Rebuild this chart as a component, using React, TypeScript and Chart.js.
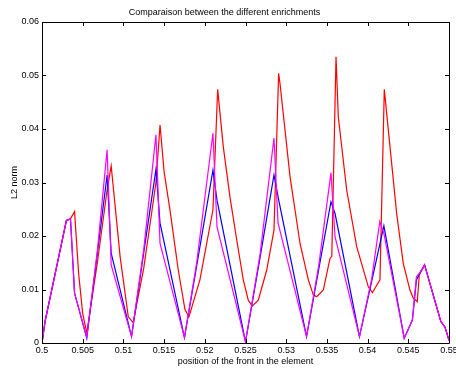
import React, { useEffect, useRef } from "react";
import { Chart, registerables } from "chart.js";

Chart.register(...registerables);

const titleText = "Comparaison between the different enrichments";
const xTitle = "position of the front in the element";
const yTitle = "L2 norm";

const xTickValues = [0.5, 0.505, 0.51, 0.515, 0.52, 0.525, 0.53, 0.535, 0.54, 0.545, 0.55];
const yTickValues = [0, 0.01, 0.02, 0.03, 0.04, 0.05, 0.06];

const redX = [
  0.5, 0.50037, 0.503, 0.5035, 0.504, 0.5045, 0.505, 0.5055,
  0.5068, 0.508, 0.5085, 0.5096, 0.5106, 0.5112,
  0.5125, 0.514, 0.5145, 0.515, 0.51572, 0.51674, 0.51757, 0.51806,
  0.5194, 0.521, 0.52158, 0.52227, 0.52309, 0.52392, 0.52473, 0.52534, 0.52583,
  0.52657, 0.5276, 0.5285, 0.52907, 0.52924, 0.53047, 0.5317, 0.53272, 0.53333, 0.53374,
  0.53456, 0.53538, 0.5356, 0.53612, 0.5364, 0.53743, 0.53866, 0.54009, 0.54058,
  0.54152, 0.54205, 0.54275, 0.54357, 0.54438, 0.5452, 0.54561, 0.5461, 0.54635,
  0.547, 0.549, 0.5495, 0.55,
];
const redY = [
  0, 0.004, 0.0229, 0.0232, 0.02455, 0.013, 0.0055, 0.0019,
  0.015, 0.0286, 0.0331, 0.0161, 0.0049, 0.0038,
  0.014, 0.03, 0.04075, 0.032, 0.0249, 0.01364, 0.0062, 0.0049,
  0.0118, 0.0249, 0.0474, 0.0367, 0.0273, 0.0193, 0.0118, 0.008, 0.0069,
  0.008, 0.0136, 0.0211, 0.0504, 0.0485, 0.0311, 0.0186, 0.0118, 0.009, 0.00866,
  0.0099, 0.0158, 0.0162, 0.0535, 0.0423, 0.0286, 0.018, 0.0105, 0.0094,
  0.0118, 0.0474, 0.0367, 0.0242, 0.0149, 0.0099, 0.0084, 0.0077, 0.0127,
  0.0146, 0.004, 0.003, 0.0005,
];

const blueX = [
  0.5, 0.50037, 0.503, 0.5035, 0.504, 0.5055,
  0.5068, 0.508, 0.5085, 0.511,
  0.5125, 0.514, 0.5145, 0.5175,
  0.519, 0.521, 0.5215, 0.525,
  0.5268, 0.5285, 0.529, 0.5325,
  0.534, 0.5355, 0.536, 0.539,
  0.5405, 0.542, 0.5445,
  0.5455, 0.546, 0.5465, 0.547, 0.549, 0.5495, 0.55,
];
const blueY = [
  0, 0.004, 0.0229, 0.0232, 0.0093, 0.0009,
  0.0168, 0.0314, 0.0168, 0.0012,
  0.0169, 0.0325, 0.0224, 0.001,
  0.0144, 0.0323, 0.0267, 0.0002,
  0.0161, 0.0314, 0.0273, 0.0012,
  0.0138, 0.0264, 0.0242, 0.0012,
  0.0115, 0.0219, 0.0009,
  0.0043, 0.0118, 0.0133, 0.0146, 0.004, 0.003, 0.0005,
];

const magentaX = [
  0.5, 0.50037, 0.503, 0.5035, 0.504, 0.5055,
  0.5068, 0.508, 0.5085, 0.511,
  0.5125, 0.514, 0.5145, 0.5175,
  0.519, 0.521, 0.5215, 0.525,
  0.5268, 0.5285, 0.529, 0.5325,
  0.534, 0.5355, 0.536, 0.539,
  0.5405, 0.5415, 0.542, 0.5445,
  0.5455, 0.546, 0.5465, 0.547, 0.549, 0.5495, 0.55,
];
const magentaY = [
  0, 0.004, 0.0229, 0.0232, 0.0093, 0.0011,
  0.0172, 0.0361, 0.0146, 0.0012,
  0.0175, 0.0389, 0.0186, 0.001,
  0.015, 0.0392, 0.0217, 0.0002,
  0.0167, 0.0383, 0.0224, 0.0012,
  0.0145, 0.0318, 0.0199, 0.0012,
  0.012, 0.0227, 0.0205, 0.0009,
  0.0043, 0.0124, 0.0133, 0.0146, 0.004, 0.003, 0.0005,
];

const zip = (xs: number[], ys: number[]) => xs.map((x, i) => ({ x, y: ys[i] }));

const fmt = (v: number) => String(Number(v.toFixed(4)));

const boxPlugin = {
  id: "matlabBox",
  afterDraw(chart: any) {
    const { ctx, chartArea } = chart;
    const { left, right, top, bottom } = chartArea;
    const xs = chart.scales.x;
    const ys = chart.scales.y;
    const tl = 4;
    ctx.save();
    ctx.strokeStyle = "#000";
    ctx.lineWidth = 1;
    ctx.beginPath();
    ctx.rect(Math.round(left) + 0.5, Math.round(top) + 0.5, Math.round(right - left), Math.round(bottom - top));
    ctx.stroke();
    ctx.beginPath();
    xTickValues.forEach((v) => {
      const px = Math.round(xs.getPixelForValue(v)) + 0.5;
      ctx.moveTo(px, bottom);
      ctx.lineTo(px, bottom - tl);
      ctx.moveTo(px, top);
      ctx.lineTo(px, top + tl);
    });
    yTickValues.forEach((v) => {
      const py = Math.round(ys.getPixelForValue(v)) + 0.5;
      ctx.moveTo(left, py);
      ctx.lineTo(left + tl, py);
      ctx.moveTo(right, py);
      ctx.lineTo(right - tl, py);
    });
    ctx.stroke();
    ctx.restore();
  },
};

export default function App() {
  const ref = useRef<HTMLCanvasElement>(null);
  useEffect(() => {
    document.body.style.margin = "0";
    Chart.defaults.font.family = "'Liberation Sans', Arial, sans-serif";
    Chart.defaults.color = "#000";
    const chart = new Chart(ref.current!, {
      type: "line",
      data: {
        datasets: [
          { label: "magenta", data: zip(magentaX, magentaY), borderColor: "#ff00ff", borderWidth: 1.2, pointRadius: 0, tension: 0 },
          { label: "blue", data: zip(blueX, blueY), borderColor: "#0000ff", borderWidth: 1.2, pointRadius: 0, tension: 0 },
          { label: "red", data: zip(redX, redY), borderColor: "#ff0000", borderWidth: 1.2, pointRadius: 0, tension: 0 },
        ],
      },
      plugins: [boxPlugin],
      options: {
        animation: false,
        responsive: false,
        layout: { padding: { left: 0, right: 7, top: 0, bottom: 0 } },
        plugins: {
          legend: { display: false },
          tooltip: { enabled: false },
          title: {
            display: true,
            text: titleText,
            color: "#000",
            font: { size: 9, weight: "normal", lineHeight: 1.2 },
            padding: { top: 7, bottom: 4.2 },
          },
        },
        scales: {
          x: {
            type: "linear",
            min: 0.5,
            max: 0.55,
            grid: { display: false, drawTicks: false },
            border: { display: false },
            ticks: { font: { size: 9 }, padding: 2, maxRotation: 0, autoSkip: false, callback: (v: any) => fmt(Number(v)) },
            title: { display: true, text: xTitle, font: { size: 9, lineHeight: 1.2 }, padding: { top: 0, bottom: 3.6 } },
            afterBuildTicks: (s: any) => { s.ticks = xTickValues.map((value) => ({ value })); },
            afterFit: (s: any) => { s.height = 28; s.paddingLeft = 0; s.paddingRight = 0; },
          },
          y: {
            type: "linear",
            min: 0,
            max: 0.06,
            grid: { display: false, drawTicks: false },
            border: { display: false },
            ticks: { font: { size: 9 }, padding: 3, autoSkip: false, callback: (v: any) => fmt(Number(v)) },
            title: { display: true, text: yTitle, font: { size: 9, lineHeight: 1.2 }, padding: { top: 9.6, bottom: 0 } },
            afterBuildTicks: (s: any) => { s.ticks = yTickValues.map((value) => ({ value })); },
            afterFit: (s: any) => { s.width = 42; s.paddingTop = 0; s.paddingBottom = 0; },
          },
        },
      },
    });
    return () => chart.destroy();
  }, []);
  return (
    <div style={{ width: 456, height: 371, background: "#fff" }}>
      <canvas ref={ref} width={456} height={371} />
    </div>
  );
}
